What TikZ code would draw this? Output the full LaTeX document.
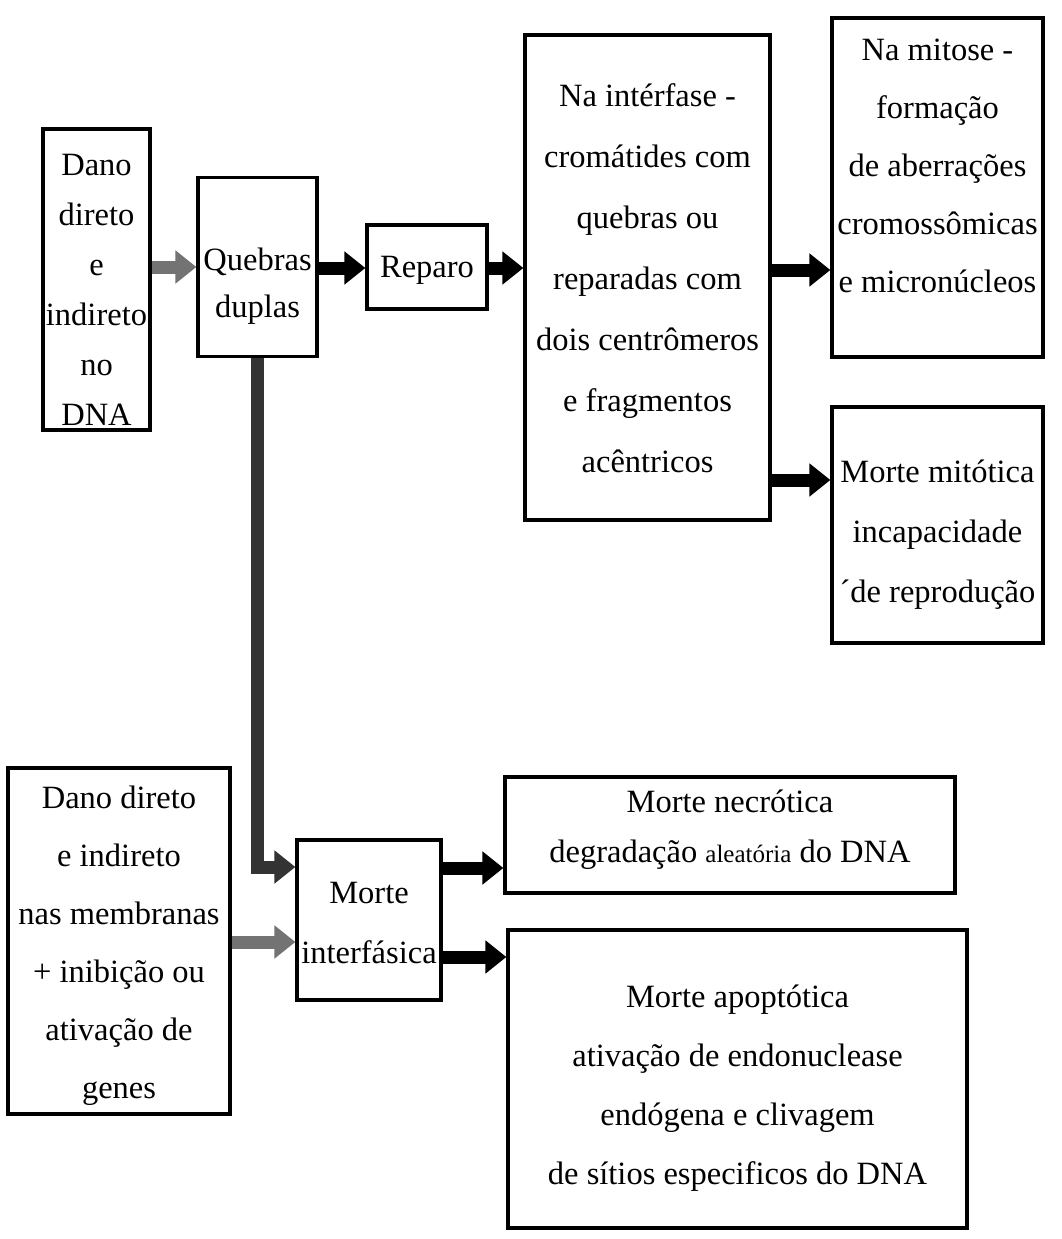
\documentclass[tikz,border=0pt]{standalone}
\usepackage{fontspec}
\setmainfont{Liberation Serif}
\usetikzlibrary{arrows.meta}
\begin{document}
\begin{tikzpicture}[x=1pt,y=-1pt,
  box/.style={draw, line width=3.2pt, inner sep=0pt, fill=white},
  txt/.style={inner sep=0pt, align=center},
  fnt/.style={font=\fontsize{32.5}{#1}\selectfont},
  fat/.style={line width=13pt, -{Triangle[length=21pt,width=32pt]}},
  grayarrow/.style={fat, draw=black!55},
  darkarrow/.style={fat, draw=black!80, line join=miter}]
\useasboundingbox (0,0) rectangle (1061,1239);
\fill[white] (0,0) rectangle (1061,1239);

% boxes
\node[box, minimum width=107pt, minimum height=301pt] (b1) at (96.5,279.5) {};
\node[box, minimum width=119pt, minimum height=179pt] (b2) at (257.5,267) {};
\node[box, minimum width=120pt, minimum height=84pt]  (b3) at (427,267) {};
\node[box, minimum width=245pt, minimum height=485pt] (b4) at (647.5,277.5) {};
\node[box, minimum width=211pt, minimum height=339pt] (b5) at (937.5,187.5) {};
\node[box, minimum width=211pt, minimum height=236pt] (b6) at (937.5,525) {};
\node[box, minimum width=222pt, minimum height=346pt] (b7) at (119,941) {};
\node[box, minimum width=144pt, minimum height=160pt] (b8) at (369,920) {};
\node[box, minimum width=450pt, minimum height=116pt] (b9) at (730,835) {};
\node[box, minimum width=459pt, minimum height=298pt] (b10) at (737.5,1079) {};

% texts
\node[txt, fnt=50] (t1) at (96.5,290) {Dano\\direto\\e\\indireto\\no\\DNA};
\node[txt, fnt=47] (t2) at (257.5,286) {Quebras\\duplas};
\node[txt, fnt=50] (t3) at (427,270) {Reparo};
\node[txt, fnt=61] (t4) at (647.5,278) {Na intérfase -\\cromátides com\\quebras ou\\reparadas com\\dois centrômeros\\e fragmentos\\acêntricos};
\node[txt, fnt=58] (t5) at (937.5,166) {Na mitose -\\formação\\de aberrações\\cromossômicas\\e micronúcleos};
\node[txt, fnt=60] (t6) at (937.5,535) {Morte mitótica\\incapacidade\\´de reprodução};
\node[txt, fnt=58] (t7) at (119,946) {Dano direto\\e indireto\\nas membranas\\+ inibição ou\\ativação de\\genes};
\node[txt, fnt=60] (t8) at (369,923) {Morte\\interfásica};
\node[txt, fnt=50] (t9) at (730,830) {Morte necrótica\\degradação {\fontsize{25}{25}\selectfont aleatória} do DNA};
\node[txt, fnt=59] (t10) at (737.5,1088) {Morte apoptótica\\ativação de endonuclease\\endógena e clivagem\\de sítios especificos do DNA};

% connectors
\draw[grayarrow] (b1.east |- 0,267) -- (b2.west |- 0,267);
\draw[fat] (b2.east |- 0,268) -- (b3.west |- 0,268);
\draw[fat] (b3.east |- 0,268) -- (b4.west |- 0,268);
\draw[fat] (b4.east |- 0,270) -- (b5.west |- 0,270);
\draw[fat] (b4.east |- 0,480) -- (b6.west |- 0,480);
\draw[darkarrow] (b2.south) |- (b8.west |- 0,867);
\draw[grayarrow] (b7.east |- 0,942) -- (b8.west |- 0,942);
\draw[fat] (b8.east |- 0,868) -- (b9.west |- 0,868);
\draw[fat] (b8.east |- 0,957) -- (b10.west |- 0,957);
\end{tikzpicture}
\end{document}
